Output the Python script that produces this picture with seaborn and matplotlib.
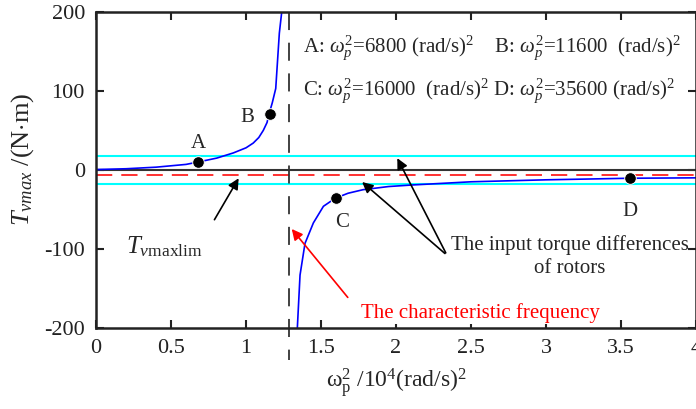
import matplotlib
matplotlib.use('Agg')
import matplotlib.pyplot as plt
import numpy as np
import pandas as pd
import seaborn as sns

# curve (x in 10^4 (rad/s)^2, y in N*m)
upper_x = [0.0, 0.2, 0.4, 0.6, 0.68, 0.805, 0.915, 1.0, 1.048, 1.085, 1.115, 1.14, 1.153, 1.175, 1.198, 1.21, 1.222, 1.238]
upper_y = [0.5, 1.5, 3.5, 7.0, 10.0, 15.0, 21.5, 28.0, 34.0, 41.0, 50.0, 60.0, 70.5, 85.0, 103.0, 138.0, 173.0, 200.0]
lower_x = [1.342, 1.36, 1.393, 1.449, 1.516, 1.593, 1.68, 1.78, 1.95, 2.11, 2.5, 3.0, 3.56, 4.0]
lower_y = [-200.0, -133.0, -93.0, -67.0, -46.0, -36.0, -29.5, -25.0, -21.0, -19.0, -15.0, -12.5, -10.5, -10.0]

point_names = ['A', 'B', 'C', 'D']
point_x = [0.68, 1.16, 1.6, 3.56]
point_y = [10.0, 70.5, -36.0, -10.5]

torque_limit = 18.0
tvmaxlim = -7.0
char_freq = 1.287

sns.set_style('ticks')
plt.rcParams['font.family'] = ['Liberation Serif', 'DejaVu Serif']
plt.rcParams['mathtext.fontset'] = 'custom'
plt.rcParams['mathtext.rm'] = 'Liberation Serif'
plt.rcParams['mathtext.it'] = 'Liberation Serif:italic'
plt.rcParams['mathtext.bf'] = 'Liberation Serif:bold'
plt.rcParams['axes.unicode_minus'] = False

fig = plt.figure(figsize=(6.96, 4.09), dpi=100)
ax = fig.add_axes([0.138, 0.198, 0.862, 0.773])

upper = pd.DataFrame({'x': upper_x, 'y': upper_y})
lower = pd.DataFrame({'x': lower_x, 'y': lower_y})

ax.axhline(0, color='#333333', lw=1.5, zorder=1)
ax.axhline(torque_limit, color='cyan', lw=1.5, zorder=1)
ax.axhline(-torque_limit, color='cyan', lw=1.5, zorder=1)
ax.axhline(tvmaxlim, color='#ff2020', lw=1.3, dashes=(9, 5), zorder=1)
ax.plot([char_freq, char_freq], [200, -240], color='#333333', lw=1.3,
        dashes=(10, 7), clip_on=False, zorder=1)

sns.lineplot(data=upper, x='x', y='y', sort=False, color='blue', lw=1.2, ax=ax)
sns.lineplot(data=lower, x='x', y='y', sort=False, color='blue', lw=1.2, ax=ax)
sns.scatterplot(x=point_x, y=point_y, color='black', s=70, zorder=5, ax=ax)

fs = 15
ax.text(0.68, 33, 'A', fontsize=fs, ha='center', va='center')
ax.text(1.01, 66, 'B', fontsize=fs, ha='center', va='center')
ax.text(1.64, -66, 'C', fontsize=fs, ha='center', va='center')
ax.text(3.56, -52, 'D', fontsize=fs, ha='center', va='center')

ax.text(1.38, 155, r'A: $\omega_p^2$=6800 (rad/s)$^2$    B: $\omega_p^2$=11600  (rad/s)$^2$',
        fontsize=15, ha='left', va='center')
ax.text(1.38, 100, r'C: $\omega_p^2$=16000  (rad/s)$^2$ D: $\omega_p^2$=35600 (rad/s)$^2$',
        fontsize=15, ha='left', va='center')

ax.text(0.2, -97, r'$T_{v\mathrm{maxlim}}$', fontsize=18, ha='left', va='center')
ax.annotate('', xy=(0.96, -7.5), xytext=(0.78, -66),
            arrowprops=dict(arrowstyle='-|>', color='black', lw=1.2, mutation_scale=16))

ax.text(3.16, -95, 'The input torque differences', fontsize=15, ha='center', va='center')
ax.text(3.16, -125, 'of rotors', fontsize=15, ha='center', va='center')
ax.annotate('', xy=(1.76, -13), xytext=(2.34, -108),
            arrowprops=dict(arrowstyle='-|>', color='black', lw=1.2, mutation_scale=16))
ax.annotate('', xy=(2.0, 18), xytext=(2.34, -108),
            arrowprops=dict(arrowstyle='-|>', color='black', lw=1.2, mutation_scale=16))

ax.annotate('', xy=(1.293, -72), xytext=(1.69, -164),
            arrowprops=dict(arrowstyle='-|>', color='red', lw=1.2, mutation_scale=16))
ax.text(2.56, -181, 'The characteristic frequency', fontsize=15, color='red',
        ha='center', va='center',
        bbox=dict(facecolor='white', edgecolor='none', pad=1))

ax.set_xlim(0, 4)
ax.set_ylim(-200, 200)
ax.set_xticks(np.arange(0, 4.01, 0.5))
ax.set_xticklabels(['0', '0.5', '1', '1.5', '2', '2.5', '3', '3.5', '4'])
ax.set_yticks([-200, -100, 0, 100, 200])
ax.tick_params(direction='in', length=6, width=1.5, labelsize=16,
               top=True, right=True, pad=8, colors='#222222')
for sp in ax.spines.values():
    sp.set_linewidth(1.8)
    sp.set_color('#222222')

ax.set_xlabel(r'$\mathrm{ω}_\mathrm{p}^2$ /10$^4$(rad/s)$^2$', fontsize=17, labelpad=6)
ax.set_ylabel(r'$T_{vmax}$ /(N$\cdot$m)', fontsize=19)
ax.yaxis.set_label_coords(-0.1, 0.535)

fig.savefig('out.png', dpi=100)
